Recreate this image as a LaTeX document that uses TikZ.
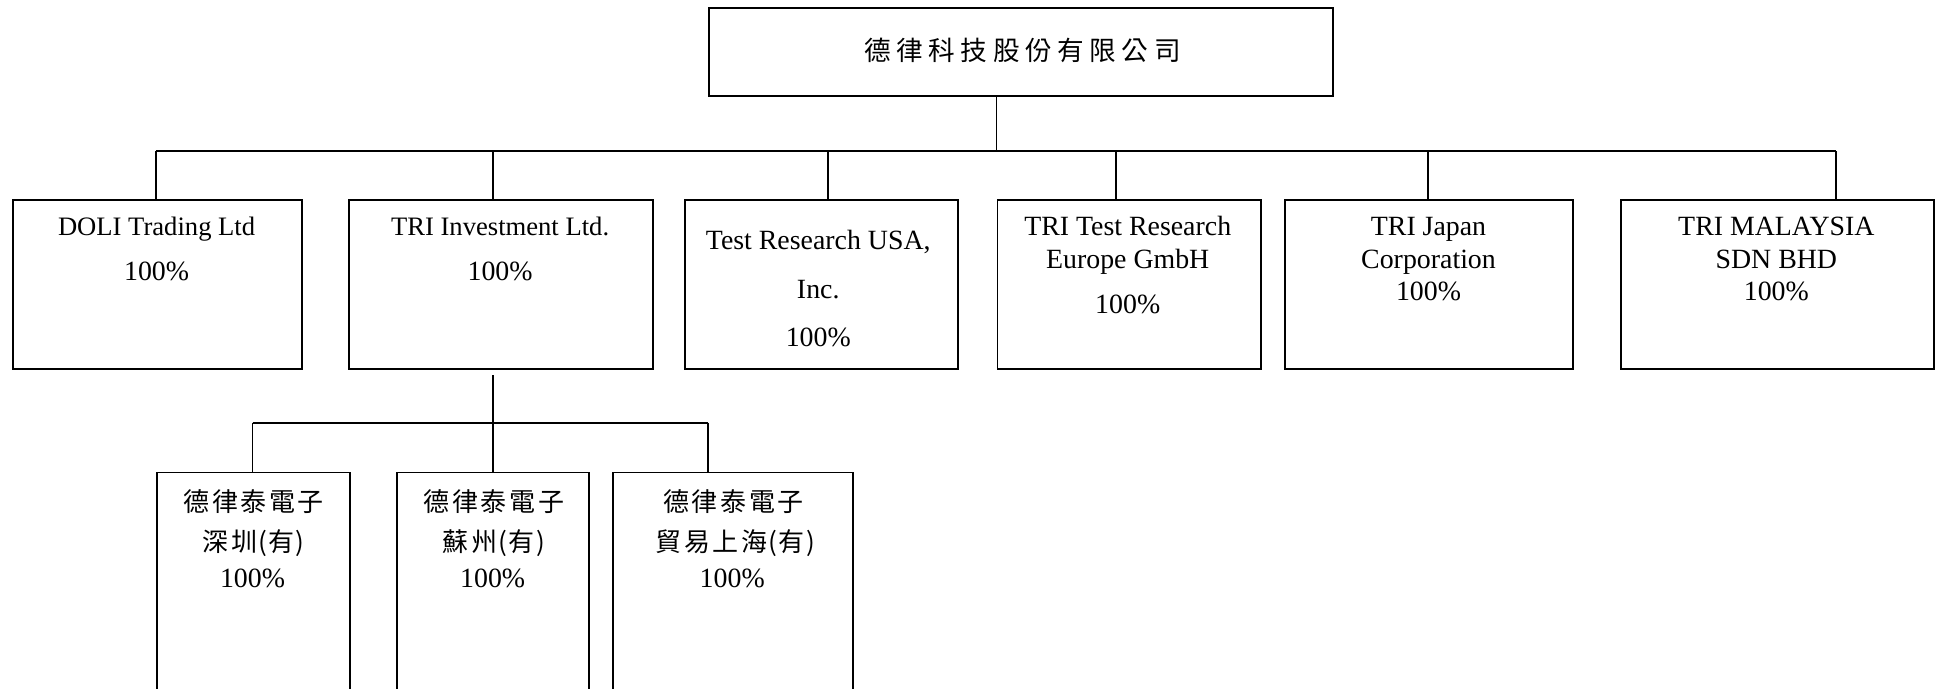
\documentclass[tikz,border=0pt]{standalone}
\usepackage{fontspec}
\setmainfont{Liberation Serif}
\newfontfamily\cjkrow[LetterSpace=10]{Noto Sans CJK TC}
\newfontfamily\cjktop[LetterSpace=21]{Noto Sans CJK TC}
\newcommand{\tfont}{\fontsize{21.5}{26}\selectfont}
\newcommand{\mfont}{\fontsize{22.5}{26}\selectfont}
\newcommand{\cfont}{\cjkrow\fontsize{21}{26}\selectfont}
\newcommand{\ctfont}{\cjktop\fontsize{21.5}{26}\selectfont}
\newcommand{\lp}{\kern1pt(\kern1pt}
\newcommand{\rp}{\kern1pt)}
\begin{document}
\begin{tikzpicture}[x=1pt,y=-1pt,
  box/.style={draw=black, line width=1.5pt, inner sep=0pt, anchor=north west},
  conn/.style={draw=black, line width=1.4pt},
  lbl/.style={inner sep=0pt, anchor=base, text=black}]
\useasboundingbox (0,0) rectangle (1568,556);
% boxes
\node[box, minimum width=504pt, minimum height=71pt] (top) at (572,6) {};
\node[box, minimum width=233pt, minimum height=136pt] (doli) at (10,161) {};
\node[box, minimum width=246pt, minimum height=136pt] (inv) at (281,161) {};
\node[box, minimum width=220.5pt, minimum height=136pt] (usa) at (552.5,161) {};
\node[box, minimum width=213pt, minimum height=136pt] (eur) at (805,161) {};
\node[box, minimum width=232.5pt, minimum height=136pt] (jpn) at (1037.5,161) {};
\node[box, minimum width=253pt, minimum height=136pt] (mal) at (1308.5,161) {};
\node[box, minimum width=156pt, minimum height=182pt] (sz) at (126,381) {};
\node[box, minimum width=155pt, minimum height=182pt] (su) at (320,381) {};
\node[box, minimum width=194pt, minimum height=182pt] (sh) at (494.5,381) {};
% texts
\node[lbl] (tTop) at (826,48.8) {\ctfont 德律科技股份有限公司};
\node[lbl] (tDoli1) at (126.5,190) {\tfont DOLI Trading Ltd};
\node[lbl] (tDoli2) at (126.5,227) {\mfont 100\%};
\node[lbl] (tInv1) at (404,190) {\tfont TRI Investment Ltd.};
\node[lbl] (tInv2) at (404,227) {\mfont 100\%};
\node[lbl] (tUsa1) at (661,201.4) {\mfont Test Research USA,};
\node[lbl] (tUsa2) at (661,241) {\mfont Inc.};
\node[lbl] (tUsa3) at (661,280) {\mfont 100\%};
\node[lbl] (tEur1) at (911,190.6) {\mfont TRI Test Research};
\node[lbl] (tEur2) at (911,216.7) {\mfont Europe GmbH};
\node[lbl] (tEur3) at (911,253.5) {\mfont 100\%};
\node[lbl] (tJpn1) at (1154,190.6) {\mfont TRI Japan};
\node[lbl] (tJpn2) at (1154,216.5) {\mfont Corporation};
\node[lbl] (tJpn3) at (1154,243) {\mfont 100\%};
\node[lbl] (tMal1) at (1435,190.6) {\mfont TRI MALAYSIA};
\node[lbl] (tMal2) at (1435,216.5) {\mfont SDN BHD};
\node[lbl] (tMal3) at (1435,243) {\mfont 100\%};
\node[lbl] (tSz1) at (205,413.4) {\cfont 德律泰電子};
\node[lbl] (tSz2) at (205,445.6) {\cfont 深圳\lp 有\rp};
\node[lbl] (tSz3) at (204,475) {\mfont 100\%};
\node[lbl] (tSu1) at (399,413.4) {\cfont 德律泰電子};
\node[lbl] (tSu2) at (399,445.6) {\cfont 蘇州\lp 有\rp};
\node[lbl] (tSu3) at (398,475) {\mfont 100\%};
\node[lbl] (tSh1) at (592.5,413.4) {\cfont 德律泰電子};
\node[lbl] (tSh2) at (594,445.6) {\cfont 貿易上海\lp 有\rp};
\node[lbl] (tSh3) at (591.5,475) {\mfont 100\%};
% connector coordinates
\coordinate (b0) at (805,122);
\coordinate (b1) at (126,122);
\coordinate (b2) at (398,122);
\coordinate (b3) at (669,122);
\coordinate (b4) at (901.5,122);
\coordinate (b5) at (1153.5,122);
\coordinate (b6) at (1483,122);
\coordinate (drop) at (398,303);
\coordinate (s1) at (204,341.5);
\coordinate (s2) at (398,341.5);
\coordinate (s3) at (572,341.5);
% connectors
\draw[conn] (top.south -| b0) -- (b0);
\draw[conn] (b1) -- (b6);
\draw[conn] (b1) -- (doli.north -| b1);
\draw[conn] (b2) -- (inv.north -| b2);
\draw[conn] (b3) -- (usa.north -| b3);
\draw[conn] (b4) -- (eur.north -| b4);
\draw[conn] (b5) -- (jpn.north -| b5);
\draw[conn] (b6) -- (mal.north -| b6);
\draw[conn] (drop) -- (s2);
\draw[conn] (s1) -- (s3);
\draw[conn] (s1) -- (sz.north -| s1);
\draw[conn] (s2) -- (su.north -| s2);
\draw[conn] (s3) -- (sh.north -| s3);
\end{tikzpicture}
\end{document}
